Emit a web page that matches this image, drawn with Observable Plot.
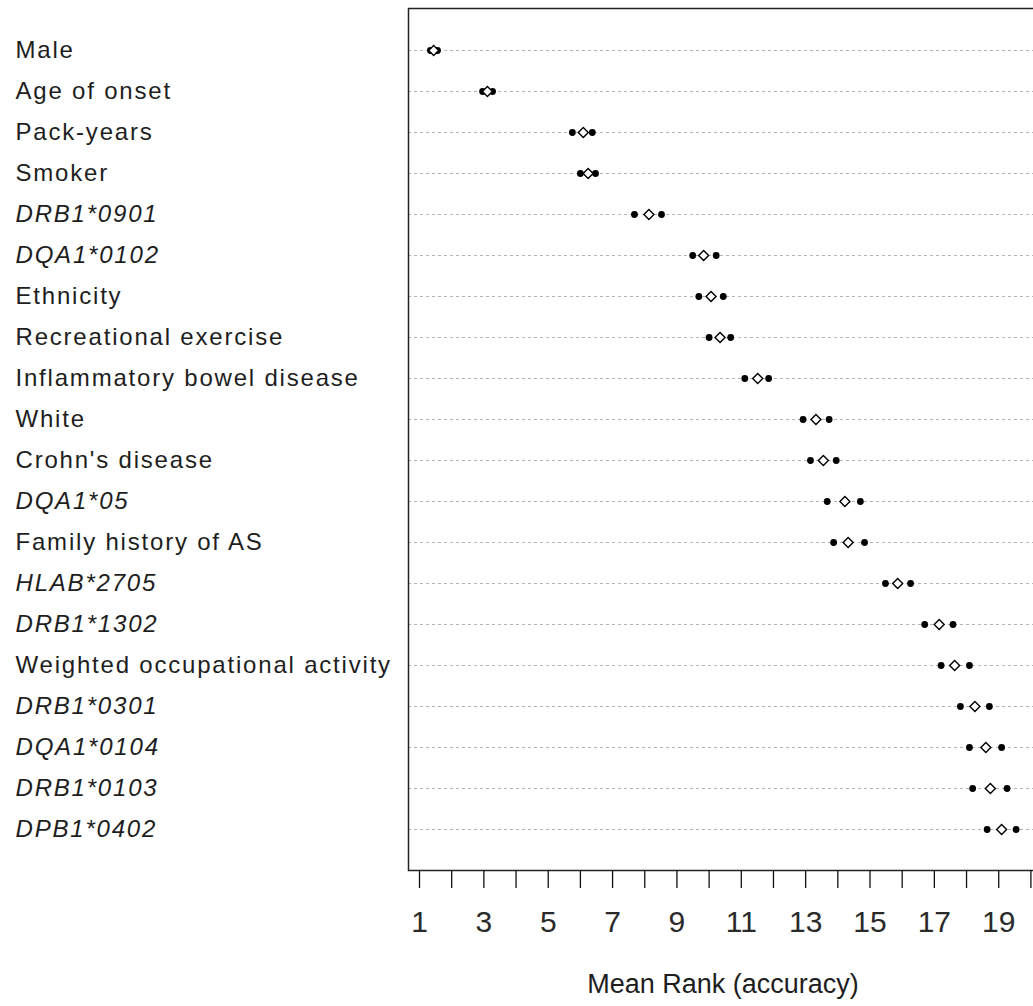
<!DOCTYPE html>
<html>
<head>
<meta charset="utf-8">
<script src="https://cdn.jsdelivr.net/npm/d3@7"></script>
<script src="https://cdn.jsdelivr.net/npm/@observablehq/plot@0.6"></script>
<style>
  html, body { margin: 0; padding: 0; overflow: hidden; background: white; }
</style>
</head>
<body>
<div id="chart"></div>
<script>
const labels = ["Male", "Age of onset", "Pack-years", "Smoker", "DRB1*0901", "DQA1*0102", "Ethnicity",
  "Recreational exercise", "Inflammatory bowel disease", "White", "Crohn's disease", "DQA1*05",
  "Family history of AS", "HLAB*2705", "DRB1*1302", "Weighted occupational activity", "DRB1*0301",
  "DQA1*0104", "DRB1*0103", "DPB1*0402"];
const lower = [1.34, 2.96, 5.75, 6.00, 7.68, 9.49, 9.68, 10.00, 11.11, 12.92, 13.15, 13.67, 13.87, 15.48, 16.70, 17.21, 17.81, 18.09, 18.19, 18.64];
const mean  = [1.44, 3.11, 6.09, 6.24, 8.13, 9.83, 10.06, 10.34, 11.51, 13.32, 13.55, 14.22, 14.32, 15.86, 17.15, 17.63, 18.26, 18.60, 18.74, 19.09];
const upper = [1.56, 3.27, 6.37, 6.47, 8.52, 10.22, 10.44, 10.67, 11.85, 13.73, 13.95, 14.70, 14.83, 16.26, 17.58, 18.09, 18.71, 19.09, 19.26, 19.54];
const italicLabels = ["DRB1*0901", "DQA1*0102", "DQA1*05", "HLAB*2705", "DRB1*1302", "DRB1*0301", "DQA1*0104", "DRB1*0103", "DPB1*0402"];
const xTicks = [1, 2, 3, 4, 5, 6, 7, 8, 9, 10, 11, 12, 13, 14, 15, 16, 17, 18, 19, 20];
const xTickLabels = ["1", "", "3", "", "5", "", "7", "", "9", "", "11", "", "13", "", "15", "", "17", "", "19", ""];
const xTitle = "Mean Rank (accuracy)";

const rows = labels.map((label, i) => ({
  label, lower: lower[i], mean: mean[i], upper: upper[i], italic: italicLabels.includes(label)
}));

const font = "'Liberation Sans', Arial, Helvetica, sans-serif";

const chart = Plot.plot({
  width: 1037,
  height: 1006,
  marginLeft: 408,
  marginRight: 0,
  marginTop: 8,
  marginBottom: 136,
  style: { fontFamily: font, background: "white", maxWidth: "none", color: "#000" },
  x: { domain: [0.658, 20.205], label: null },
  y: { type: "point", domain: labels, padding: 0.98, axis: null, label: null },
  marks: [
    Plot.gridY({ strokeDasharray: "3,3", stroke: "#b4b4b4", strokeOpacity: 1, strokeWidth: 1 }),
    Plot.dot(rows, { x: "lower", y: "label", r: 3.4, fill: "#000", stroke: "none" }),
    Plot.dot(rows, { x: "upper", y: "label", r: 3.4, fill: "#000", stroke: "none" }),
    Plot.dot(rows, { x: "mean", y: "label", symbol: "diamond2", r: 4.5, fill: "white", stroke: "#000", strokeWidth: 1.4 }),
    Plot.frame({ stroke: "#222", strokeWidth: 1.5 }),
    Plot.axisX(xTicks, {
      tickSize: 18, tickPadding: 22, label: null,
      tickFormat: d => xTickLabels[xTicks.indexOf(d)],
      fontSize: 30, strokeWidth: 1.3, stroke: "#111", fill: "#2a2a2a"
    }),
    Plot.text(rows.filter(d => !d.italic), {
      y: "label", text: "label", frameAnchor: "left", textAnchor: "start", dx: -393,
      fontSize: 24, fill: "#1e1e1e", lineAnchor: "middle"
    }),
    Plot.text(rows.filter(d => d.italic), {
      y: "label", text: "label", frameAnchor: "left", textAnchor: "start", dx: -393,
      fontSize: 24, fill: "#1e1e1e", fontStyle: "italic", lineAnchor: "middle"
    }),
    Plot.text([xTitle], {
      text: d => d, frameAnchor: "bottom", dy: 114, fontSize: 27, fill: "#1e1e1e", lineAnchor: "middle"
    })
  ]
});

d3.select(chart).selectAll("text")
  .filter(function () { return labels.includes(this.textContent); })
  .style("letter-spacing", "1.8px");
document.getElementById("chart").appendChild(chart);
</script>
</body>
</html>
